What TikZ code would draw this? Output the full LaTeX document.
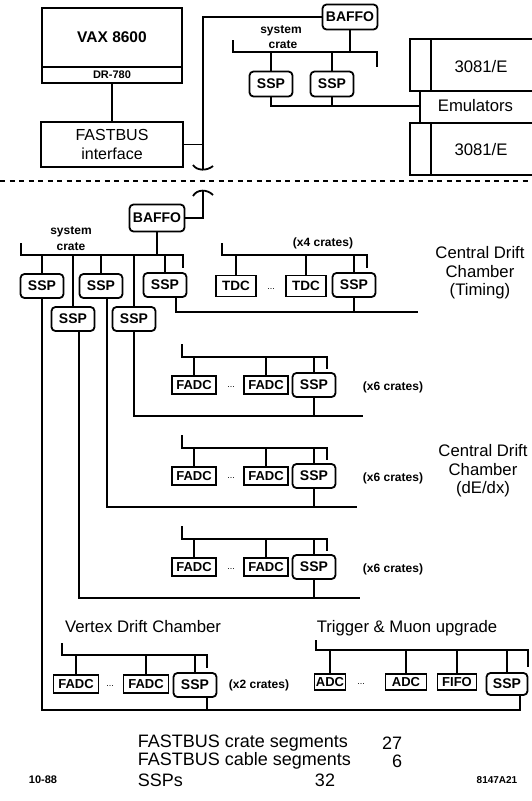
\documentclass[tikz,border=0pt]{standalone}
\usepackage{fontspec}
\setmainfont{Liberation Sans}
\usepackage{tikz}
\newcommand{\fsz}[2]{\fontsize{#1}{#2}\selectfont}
\tikzset{
  box/.style={draw, inner sep=0pt},
  ssp/.style={draw, rounded corners=4pt, minimum width=43pt, minimum height=24pt, inner sep=0pt, font=\bfseries\fsz{14}{16}},
  module/.style={draw, minimum width=44pt, minimum height=18pt, inner sep=0pt, font=\bfseries\fsz{13}{15}},
  big/.style={font=\fsz{16.7}{18.5}, align=center, inner sep=0pt},
  small/.style={font=\bfseries\fsz{12}{14}, inner sep=0pt},
  dotsty/.style={font=\fsz{9}{10}, inner sep=0pt},
}
\begin{document}
\begin{tikzpicture}[x=1pt,y=-1pt,line width=1.8pt]
\useasboundingbox (0,0) rectangle (532,801);

% host side
\node[box, minimum width=140pt, minimum height=59pt, font=\bfseries\fsz{15.5}{18}] (vax) at (112,37.5) {VAX 8600};
\node[box, minimum width=140pt, minimum height=16pt, font=\bfseries\fsz{11}{12}] (dr) at (112,75) {DR-780};
\node[box, minimum width=142pt, minimum height=45pt, align=center, font=\fsz{16}{19}] (fbi) at (112,144.5) {FASTBUS\\interface};
\draw (dr) -- (fbi);

\node[ssp, minimum width=55pt, minimum height=25pt] (baffoA) at (350,17) {BAFFO};
\coordinate (cabA) at (203,17);
\coordinate (brkA) at (203,169);
\draw (baffoA.west) -- (cabA) -- (brkA);
\draw (fbi.east) -- (fbi.east -| cabA);
\draw (193,165) .. controls (197,171) and (207,171) .. (213,166);

% system crate (top)
\coordinate (sysAL) at (233,52);
\coordinate (sysAR) at (377,52);
\draw (sysAL) ++(0,-12) -- (sysAL) -- (sysAR) -- ++(0,15);
\node[small] (sysAt) at (281,31) {system};
\node[small] (sysAc) at (283,45) {crate};
\draw (baffoA.south) -- (baffoA.south |- sysAL);
\node[ssp, minimum height=25pt] (sspA1) at (271,84) {SSP};
\node[ssp, minimum height=25pt] (sspA2) at (332,84) {SSP};
\foreach \n in {sspA1,sspA2} \draw (\n.north) -- (\n.north |- sysAL);

% emulators
\coordinate (emuJ) at (420,106);
\draw (sspA1.south) |- (emuJ);
\draw (sspA2.south) -- (sspA2.south |- emuJ);
\node[box, minimum width=130pt, minimum height=52pt] (emu1) at (475,65) {};
\node[box, minimum width=130pt, minimum height=52pt] (emu2) at (475,149) {};
\draw ([xshift=22pt]emu1.north west) -- ([xshift=22pt]emu1.south west);
\draw ([xshift=22pt]emu2.north west) -- ([xshift=22pt]emu2.south west);
\node[big] (emuT1) at (481,67) {3081/E};
\node[big] (emuT2) at (481,150) {3081/E};
\draw (emu1.south -| emuJ) -- (emu2.north -| emuJ);
\node[big, anchor=west] (emuL) at (437,106) {Emulators};

\draw[dash pattern=on 5pt off 4.5pt] (0,181) -- (532,181);

% detector side
\coordinate (brkB) at (203,191);
\draw (193,196) .. controls (197,189) and (207,189) .. (213,195);
\node[ssp, minimum width=55pt, minimum height=27pt] (baffoB) at (157,218) {BAFFO};
\draw (baffoB.east) -| (brkB);

\coordinate (sysBL) at (21,255);
\coordinate (sysBR) at (183,255);
\draw (sysBL) ++(0,-12) -- (sysBL) -- (sysBR) -- ++(0,13);
\node[small] (sysBt) at (71,232) {system};
\node[small] (sysBc) at (71,247) {crate};
\draw (baffoB.south) -- (baffoB.south |- sysBL);
\node[ssp] (sspB1) at (42,286) {SSP};
\node[ssp] (sspB2) at (101,286) {SSP};
\node[ssp] (sspB3) at (165,285) {SSP};
\node[ssp] (sspB4) at (73,319) {SSP};
\node[ssp] (sspB5) at (134,319) {SSP};
\foreach \n in {sspB1,sspB2,sspB3,sspB4,sspB5} \draw (\n.north) -- (\n.north |- sysBL);

% central drift chamber, timing
\coordinate (LT) at (222,255);
\coordinate (RT) at (367,255);
\draw (LT) ++(0,-12) -- (LT) -- (RT) -- ++(0,13);
\node[small] (multT) at (323,243) {(x4 crates)};
\node[module, minimum width=40pt, minimum height=21pt, font=\bfseries\fsz{13.5}{15}] (tdc1) at (236,286) {TDC};
\node[dotsty] (dotsT) at (271,289) {...};
\node[module, minimum width=40pt, minimum height=21pt, font=\bfseries\fsz{13.5}{15}] (tdc2) at (306,286) {TDC};
\node[ssp] (sspT) at (354,285) {SSP};
\foreach \m in {tdc1,tdc2,sspT} \draw (\m.north) -- (\m.north |- LT);
\coordinate (endT) at (418,312);
\draw ([xshift=11pt]sspB3.south) |- (endT);
\draw (sspT.south) -- (sspT.south |- endT);
\node[big] (cdcT) at (480,273) {Central Drift\\Chamber\\(Timing)};

% central drift chamber, dE/dx
\foreach \r/\y/\n/\s/\e in {a/385/sspB5/0pt/363, b/476/sspB2/6pt/357, c/567/sspB4/6pt/360}{
  \coordinate (L\r) at (182,\y-28);
  \coordinate (R\r) at (327,\y-28);
  \draw (L\r) ++(0,-13) -- (L\r) -- (R\r) -- ++(0,12);
  \node[module] (fadc\r1) at (194,\y) {FADC};
  \node[dotsty] (dots\r) at (231,\y+2) {...};
  \node[module] (fadc\r2) at (266,\y) {FADC};
  \node[ssp] (ssp\r) at (314,\y) {SSP};
  \node[small] (mult\r) at (393,\y+2) {(x6 crates)};
  \foreach \m in {fadc\r1,fadc\r2,ssp\r} \draw (\m.north) -- (\m.north |- L\r);
  \coordinate (end\r) at (\e,\y+31);
  \draw ([xshift=\s]\n.south) |- (end\r);
  \draw (ssp\r.south) -- (ssp\r.south |- end\r);
}
\node[big] (cdcE) at (483,471) {Central Drift\\Chamber\\(dE/dx)};

% vertex drift chamber
\node[big] (vdcT) at (143,627) {Vertex Drift Chamber};
\coordinate (LV) at (62,655);
\coordinate (RV) at (207,655);
\draw (LV) ++(0,-12) -- (LV) -- (RV) -- ++(0,13);
\node[module, minimum width=45pt] (fadcV1) at (76,684) {FADC};
\node[dotsty] (dotsV) at (110,686) {...};
\node[module, minimum width=45pt] (fadcV2) at (146,684) {FADC};
\node[ssp] (sspV) at (195,685) {SSP};
\node[small] (multV) at (259,685) {(x2 crates)};
\foreach \m in {fadcV1,fadcV2,sspV} \draw (\m.north) -- (\m.north |- LV);

% trigger and muon upgrade
\node[big] (trgT) at (407,628) {Trigger \& Muon upgrade};
\coordinate (LM) at (316,650);
\coordinate (RM) at (528,650);
\draw (LM) ++(0,-10) -- (LM) -- (RM) -- ++(0,17);
\node[module, minimum width=31pt, minimum height=16pt, font=\bfseries\fsz{13}{14}] (adc1) at (330,682) {ADC};
\node[dotsty] (dotsM) at (361,684) {...};
\node[module, minimum width=41pt, minimum height=16pt, font=\bfseries\fsz{13}{14}] (adc2) at (406,682) {ADC};
\node[module, minimum width=39pt, minimum height=16pt, font=\bfseries\fsz{13}{14}] (fifo) at (457,682) {FIFO};
\node[ssp, minimum width=41pt, minimum height=22pt] (sspM) at (507,684) {SSP};
\foreach \m in {adc1,adc2,fifo,sspM} \draw (\m.north) -- (\m.north |- LM);

\coordinate (botR) at (520,710);
\draw (sspB1.south) |- (botR) -- (botR |- sspM.south);
\draw ([xshift=12pt]sspV.south) -- ([xshift=12pt]sspV.south |- botR);

% totals
\node[big, anchor=west, font=\fsz{18}{20}] (sumA) at (137,743) {FASTBUS crate segments};
\node[big, anchor=east, font=\fsz{18}{20}] (numA) at (403,743) {27};
\node[big, anchor=west, font=\fsz{18}{20}] (sumB) at (137,761) {FASTBUS cable segments};
\node[big, anchor=east, font=\fsz{18}{20}] (numB) at (403,761) {6};
\node[big, anchor=west, font=\fsz{18}{20}] (sumC) at (137,780) {SSPs};
\node[big, font=\fsz{18}{20}] (numC) at (325,780) {32};
\node[small, font=\bfseries\fsz{11}{12}] (date) at (43,780) {10-88};
\node[small, font=\bfseries\fsz{10}{12}] (fig) at (497,780) {8147A21};
\end{tikzpicture}
\end{document}
